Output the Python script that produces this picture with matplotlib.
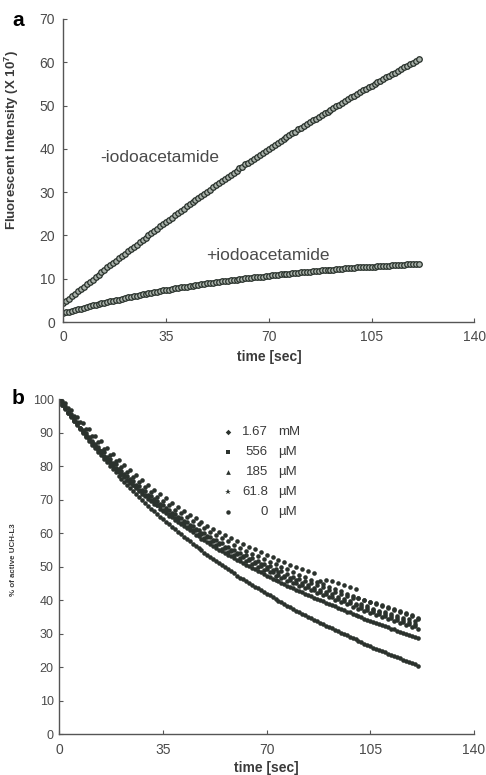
import numpy as np
import matplotlib
matplotlib.use('Agg')
import matplotlib.pyplot as plt

plt.rcParams['font.family'] = ['Liberation Sans', 'DejaVu Sans']
plt.rcParams['mathtext.default'] = 'regular'

# ---- panel a: fluorescence vs time, one reading per second ----
time_a = list(range(0, 122))
minus_iodo = [
    4.3, 4.9, 5.4, 6.0, 6.5, 7.1, 7.6, 8.2, 8.7, 9.3, 9.8, 10.4, 10.9, 11.5, 12.0, 12.6, 13.1, 13.7, 14.2, 14.8, 15.3,
    15.8, 16.3, 16.9, 17.4, 17.9, 18.4, 18.9, 19.5, 20.0, 20.5, 21.0, 21.5, 22.1, 22.6, 23.1, 23.6, 24.1, 24.7, 25.2, 25.7,
    26.2, 26.7, 27.2, 27.7, 28.2, 28.6, 29.1, 29.6, 30.1, 30.6, 31.1, 31.6, 32.1, 32.6, 33.1, 33.5, 34.0, 34.5, 35.0, 35.5,
    35.9, 36.4, 36.8, 37.3, 37.7, 38.2, 38.6, 39.1, 39.5, 40.0, 40.4, 40.9, 41.3, 41.8, 42.2, 42.7, 43.1, 43.6, 44.0, 44.5,
    44.9, 45.3, 45.7, 46.1, 46.6, 47.0, 47.4, 47.8, 48.2, 48.6, 49.0, 49.4, 49.8, 50.2, 50.7, 51.1, 51.5, 51.9, 52.3, 52.7,
    53.1, 53.5, 53.8, 54.2, 54.6, 55.0, 55.4, 55.7, 56.1, 56.5, 56.9, 57.3, 57.6, 58.0, 58.4, 58.8, 59.2, 59.5, 59.9, 60.3, 60.7,
]
plus_iodo = [
    2.0, 2.2, 2.4, 2.6, 2.8, 3.0, 3.1, 3.3, 3.5, 3.7, 3.9,
    4.0, 4.2, 4.3, 4.5, 4.6, 4.8, 4.9, 5.1, 5.2, 5.4,
    5.5, 5.7, 5.8, 6.0, 6.1, 6.2, 6.4, 6.5, 6.7, 6.8,
    6.9, 7.0, 7.2, 7.3, 7.4, 7.5, 7.6, 7.8, 7.9, 8.0,
    8.1, 8.2, 8.3, 8.4, 8.5, 8.6, 8.7, 8.8, 8.9, 9.0,
    9.1, 9.2, 9.3, 9.4, 9.4, 9.5, 9.6, 9.7, 9.8, 9.9,
    10.0, 10.1, 10.1, 10.2, 10.3, 10.4, 10.5, 10.5, 10.6, 10.7,
    10.8, 10.8, 10.9, 11.0, 11.0, 11.1, 11.2, 11.3, 11.3, 11.4,
    11.5, 11.5, 11.6, 11.6, 11.7, 11.8, 11.8, 11.9, 11.9, 12.0,
    12.1, 12.1, 12.2, 12.2, 12.3, 12.4, 12.4, 12.5, 12.5, 12.6,
    12.6, 12.7, 12.7, 12.8, 12.8, 12.8, 12.9, 12.9, 13.0, 13.0,
    13.0, 13.1, 13.1, 13.1, 13.2, 13.2, 13.3, 13.3, 13.3, 13.4, 13.4,
]

# ---- panel b: % active UCH-L3 vs time ----
time_b = list(range(0, 122))
conc_values = ['1.67', '556', '185', '61.8', '0']
conc_units = ['mM', 'µM', 'µM', 'µM', 'µM']
act_1670uM = [
    100.0, 98.8, 97.5, 96.2, 94.9, 93.6, 92.4, 91.2, 90.0, 88.8, 87.6,
    86.5, 85.4, 84.3, 83.3, 82.2, 81.2, 80.2, 79.2, 78.2, 77.2,
    76.3, 75.3, 74.4, 73.4, 72.5, 71.6, 70.8, 69.9, 69.1, 68.2,
    67.4, 66.6, 65.8, 65.0, 64.2, 63.4, 62.7, 61.9, 61.2, 60.4,
    59.7, 59.0, 58.3, 57.6, 56.9, 56.2, 55.5, 54.9, 54.2, 53.5,
    52.9, 52.3, 51.6, 51.0, 50.4, 49.8, 49.2, 48.6, 48.0, 47.4,
    46.8, 46.3, 45.7, 45.2, 44.6, 44.1, 43.6, 43.0, 42.5, 42.0,
    41.5, 41.0, 40.4, 39.9, 39.4, 38.9, 38.4, 37.9, 37.4, 36.9,
    36.4, 36.0, 35.5, 35.1, 34.6, 34.2, 33.7, 33.3, 32.8, 32.4,
    32.0, 31.6, 31.1, 30.7, 30.3, 29.9, 29.5, 29.1, 28.7, 28.3,
    27.9, 27.5, 27.1, 26.7, 26.3, 25.9, 25.6, 25.2, 24.9, 24.5,
    24.1, 23.8, 23.4, 23.1, 22.7, 22.3, 22.0, 21.6, 21.3, 20.9, 20.5,
]
act_556uM = [
    100.0, 98.7, 97.5, 96.2, 95.0, 93.8, 92.8, 91.5, 90.5, 89.3, 88.2,
    87.2, 86.1, 85.1, 84.1, 83.1, 82.0, 81.2, 80.2, 79.4, 78.4,
    77.6, 76.7, 76.0, 75.1, 74.3, 73.4, 72.7, 71.8, 71.2, 70.3,
    69.6, 68.8, 68.3, 67.4, 66.8, 66.1, 65.3, 64.8, 64.0, 63.4,
    62.7, 62.2, 61.5, 60.9, 60.3, 59.6, 59.1, 58.4, 58.0, 57.3,
    56.8, 56.2, 55.6, 55.1, 54.6, 54.0, 53.5, 53.1, 52.5, 52.0,
    51.6, 51.0, 50.6, 50.1, 49.7, 49.2, 48.6, 48.3, 47.8, 47.4,
    47.0, 46.5, 46.1, 45.7, 45.3, 44.8, 44.3, 44.1, 43.6, 43.2,
    42.8, 42.4, 42.0, 41.7, 41.3, 40.8, 40.5, 40.0, 39.8, 39.3,
    39.0, 38.5, 38.2, 37.8, 37.5, 37.1, 36.6, 36.4, 35.9, 35.6,
    35.3, 34.9, 34.5, 34.2, 33.8, 33.5, 33.2, 32.8, 32.6, 32.2,
    31.9, 31.5, 31.3, 30.9, 30.6, 30.2, 29.9, 29.7, 29.3, 29.0, 28.6,
]
act_185uM = [
    100.2, 98.4, 97.9, 96.0, 95.5, 93.6, 93.1, 91.4, 90.9, 89.1, 88.7,
    87.0, 86.8, 84.9, 84.7, 82.9, 82.8, 81.1, 81.0, 79.3, 79.2,
    77.6, 77.8, 75.9, 76.1, 74.3, 74.5, 72.8, 73.0, 71.3, 71.5,
    69.8, 70.1, 68.4, 68.8, 67.1, 67.5, 65.8, 66.2, 64.5, 65.0,
    63.2, 63.8, 62.0, 62.6, 60.9, 61.3, 59.7, 60.2, 58.6, 59.2,
    57.5, 58.1, 56.4, 57.1, 55.4, 56.0, 54.5, 55.1, 53.5, 54.1,
    52.6, 53.3, 51.7, 52.4, 50.8, 51.5, 49.9, 50.7, 49.1, 49.8,
    48.3, 49.0, 47.4, 48.3, 46.7, 47.4, 45.9, 46.7, 45.2, 46.0,
    44.4, 45.3, 43.7, 44.5, 43.0, 43.8, 42.3, 43.1, 41.6, 42.4,
    40.9, 41.8, 40.2, 41.1, 39.5, 40.4, 38.8, 39.7, 38.1, 39.0,
    37.5, 38.4, 36.8, 37.7, 36.2, 37.1, 35.5, 36.5, 34.9, 35.9,
    34.3, 35.3, 33.7, 34.7, 33.1, 34.1, 32.5, 33.5, 31.9, 32.9, 31.4,
]
act_61uM = [
    99.6, 99.5, 97.1, 97.4, 94.8, 95.1, 92.5, 93.3, 90.3, 91.0, 88.4,
    88.9, 86.2, 87.3, 84.5, 85.1, 82.2, 83.3, 80.6, 81.5, 78.7,
    79.8, 77.0, 78.3, 75.4, 76.7, 73.8, 75.2, 72.3, 73.7, 70.9,
    72.2, 69.4, 70.9, 68.1, 69.6, 66.8, 68.4, 65.5, 67.1, 64.3,
    66.0, 63.1, 64.9, 62.0, 63.8, 60.9, 62.7, 59.8, 61.6, 58.8,
    60.5, 57.7, 59.5, 56.7, 58.5, 55.6, 57.6, 54.7, 56.6, 53.7,
    55.7, 52.8, 54.8, 51.9, 53.9, 51.0, 53.2, 50.1, 52.3, 49.3,
    51.4, 48.5, 50.7, 47.7, 49.9, 46.9, 49.2, 46.1, 48.4, 45.3,
    47.6, 44.6, 46.9, 43.9, 46.2, 43.2, 45.5, 42.5, 44.8, 41.8,
    44.1, 41.1, 43.4, 40.4, 42.7, 39.8, 42.0, 39.1, 41.3, 38.5,
    40.7, 37.8, 40.0, 37.2, 39.4, 36.5, 38.8, 35.9, 38.2, 35.3,
    37.6, 34.7, 37.0, 34.1, 36.4, 33.5, 35.8, 32.9, 35.3, 32.4, 34.5,
]
act_0uM = [
    101.0, 98.2, 98.9, 96.0, 96.9, 94.1, 94.6, 91.5, 92.8, 89.8, 91.0,
    87.6, 89.1, 85.9, 87.4, 84.2, 85.5, 82.2, 83.7, 80.6, 82.0,
    78.7, 80.4, 77.1, 78.9, 75.6, 77.3, 74.0, 75.8, 72.5, 74.3,
    71.0, 73.0, 69.7, 71.6, 68.3, 70.4, 67.1, 69.0, 65.8, 67.8,
    64.6, 66.7, 63.4, 65.5, 62.2, 64.5, 61.1, 63.3, 60.0, 62.3,
    59.0, 61.3, 58.0, 60.4, 57.0, 59.4, 56.0, 58.5, 55.1, 57.6,
    54.2, 56.8, 53.4, 55.9, 52.5, 55.2, 51.6, 54.4, 50.9, 53.6,
    50.1, 52.8, 49.3, 52.0, 48.6, 51.3, 47.8, 50.6, 47.1, 49.9,
    46.5, 49.2, 45.8, 48.6, 45.1, 48.0, 44.5, 45.8, 43.9, 46.2,
    43.2, 45.9, 42.6, 45.3, 42.0, 44.6, 41.3, 44.0, 40.8, 43.4,
    40.6, 38.9, 40.2, 38.4, 39.6, 37.5, 39.2, 36.9, 38.6, 36.4,
    38.0, 35.9, 37.4, 35.4, 36.8, 34.8, 36.3, 34.3, 35.7, 33.9, 34.6,
]
activity = [act_1670uM, act_556uM, act_185uM, act_61uM, act_0uM]
legend_markers = ['D', 's', '^', '*', 'o']
legend_sizes = [2.8, 2.8, 3.4, 4.4, 3.2]

tick_col = '#4a4a4a'
label_col = '#3a3a3a'
dot_col = '#2b322d'

fig = plt.figure(figsize=(4.86, 7.75), dpi=100)
ax_a = fig.add_axes([0.1303, 0.5845, 0.8457, 0.3910])
ax_b = fig.add_axes([0.1220, 0.0525, 0.8533, 0.4323])

for ax in (ax_a, ax_b):
    for side in ('top', 'right'):
        ax.spines[side].set_visible(False)
    for side in ('left', 'bottom'):
        ax.spines[side].set_color('#555555')
        ax.spines[side].set_linewidth(1.0)
    ax.tick_params(direction='in', length=3, width=0.8, color='#555555',
                   labelcolor=tick_col)
    ax.set_xlim(0, 140)
    ax.set_xticks([0, 35, 70, 105, 140])
    ax.tick_params(axis='x', labelsize=10, pad=6)

# panel a
for vals in (minus_iodo, plus_iodo):
    ax_a.plot(time_a, vals, 'o', ms=4.0, mfc='#a9b1aa', mec='#27302a', mew=0.9)
ax_a.set_ylim(0, 70)
ax_a.set_yticks(range(0, 71, 10))
ax_a.tick_params(axis='y', labelsize=10, pad=6)
ax_a.text(33, 37.9, '-iodoacetamide', fontsize=12.5, color='#4a4a4a',
          ha='center', va='center')
ax_a.text(69.8, 15.4, '+iodoacetamide', fontsize=12.5, color='#4a4a4a',
          ha='center', va='center')
ax_a.set_xlabel('time [sec]', fontsize=10, fontweight='bold', color=label_col,
                labelpad=4)
ax_a.set_ylabel(r'Fluorescent Intensity (X 10$^7$)', fontsize=9.5,
                fontweight='bold', color=label_col)
ax_a.yaxis.set_label_coords(-0.104, 0.6)

# panel b
for vals in activity:
    ax_b.plot(time_b, vals, 'o', ms=3.3, color=dot_col, mew=0)
ax_b.set_ylim(0, 100)
ax_b.set_yticks(range(0, 101, 10))
ax_b.tick_params(axis='y', labelsize=9, pad=4)
ax_b.set_xlabel('time [sec]', fontsize=10, fontweight='bold', color=label_col,
                labelpad=3)
ax_b.set_ylabel('% of active UCH-L3', fontsize=5.7, fontweight='bold',
                color=label_col)
ax_b.yaxis.set_label_coords(-0.102, 0.52)

# legend of panel b, numbers right-aligned, units in a column
for i, (num, unit, mk, sz) in enumerate(zip(conc_values, conc_units,
                                             legend_markers, legend_sizes)):
    yy = 0.903 - 0.060 * i
    ax_b.plot([0.407], [yy], mk, ms=sz, color=dot_col, mew=0,
              transform=ax_b.transAxes, clip_on=False)
    ax_b.text(0.503, yy, num, transform=ax_b.transAxes, fontsize=9.5,
              color=label_col, ha='right', va='center')
    ax_b.text(0.527, yy, unit, transform=ax_b.transAxes, fontsize=9.5,
              color=label_col, ha='left', va='center')

fig.text(0.037, 0.973, 'a', fontsize=15, fontweight='bold', ha='center', va='center')
fig.text(0.037, 0.486, 'b', fontsize=15, fontweight='bold', ha='center', va='center')

fig.savefig('out.png', dpi=100)
